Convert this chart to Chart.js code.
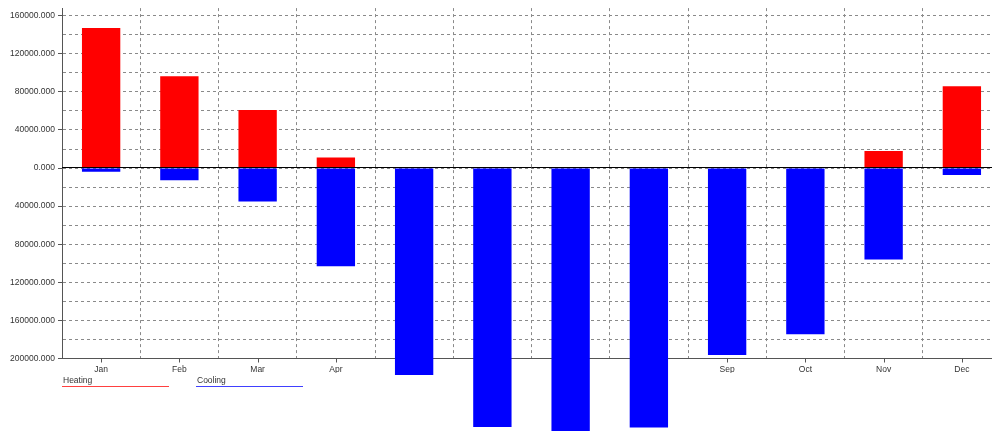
<!DOCTYPE html>
<html>
<head>
<meta charset="utf-8">
<script src="https://cdn.jsdelivr.net/npm/chart.js@4/dist/chart.umd.min.js"></script>
<style>
  html, body { margin: 0; padding: 0; background: #fff; overflow: hidden; }
  #wrap { width: 1010px; height: 431px; position: relative; }
</style>
</head>
<body>
<div id="wrap"><canvas id="c" width="1010" height="431"></canvas></div>
<script>
// Monthly heating / cooling loads (cooling stored as negative values)
const months = ['Jan', 'Feb', 'Mar', 'Apr', 'May', 'Jun', 'Jul', 'Aug', 'Sep', 'Oct', 'Nov', 'Dec'];
const heating = [147000, 96400, 60900, 11000, 0, 0, 0, 0, 0, 0, 18000, 86000];
const cooling = [-3800, -12800, -35000, -103000, -217300, -272000, -279000, -272400, -196400, -174500, -96000, -7300];
const seriesNames = ['Heating', 'Cooling'];
const seriesColors = ['#ff0000', '#0000ff'];

const FONT = { family: 'Liberation Sans, Arial, sans-serif', size: 8.5 };
const TEXT = '#333333';

const onStep = (v, step) => Math.abs(v / step - Math.round(v / step)) < 1e-6;

// Extra marks: centred x tick marks, zero line, underlined legend
const extras = {
  id: 'extras',
  beforeDatasetsDraw(chart) {
    const { ctx, chartArea, scales } = chart;
    ctx.save();
    ctx.strokeStyle = '#555';
    ctx.lineWidth = 1;
    months.forEach((m, i) => {
      const x = Math.round(scales.x.getPixelForValue(i)) + 0.5;
      ctx.beginPath();
      ctx.moveTo(x, chartArea.bottom);
      ctx.lineTo(x, chartArea.bottom + 4);
      ctx.stroke();
    });
    ctx.restore();
  },
  afterDatasetsDraw(chart) {
    const { ctx, chartArea, scales } = chart;
    const y0 = Math.round(scales.y.getPixelForValue(0)) - 0.5;
    ctx.save();
    ctx.strokeStyle = '#000';
    ctx.lineWidth = 1;
    ctx.beginPath();
    ctx.moveTo(chartArea.left, y0);
    ctx.lineTo(chartArea.right, y0);
    ctx.stroke();
    ctx.restore();
  },
  afterDraw(chart) {
    const { ctx, chartArea } = chart;
    ctx.save();
    ctx.font = FONT.size + 'px ' + FONT.family;
    ctx.textBaseline = 'alphabetic';
    ctx.textAlign = 'left';
    chart.data.datasets.forEach((ds, i) => {
      const x = chartArea.left + i * 134;
      const y = chartArea.bottom + 24.5;
      ctx.fillStyle = TEXT;
      ctx.fillText(ds.label, x + 1, y);
      ctx.strokeStyle = ds.backgroundColor;
      ctx.globalAlpha = 0.75;
      ctx.beginPath();
      ctx.moveTo(x, y + 3.5);
      ctx.lineTo(x + 107, y + 3.5);
      ctx.stroke();
      ctx.globalAlpha = 1;
    });
    ctx.restore();
  }
};

new Chart(document.getElementById('c'), {
  type: 'bar',
  data: {
    labels: months,
    datasets: [
      { label: seriesNames[0], data: heating, backgroundColor: seriesColors[0], clip: false },
      { label: seriesNames[1], data: cooling, backgroundColor: seriesColors[1], clip: false }
    ]
  },
  options: {
    responsive: false,
    animation: false,
    layout: { padding: { top: 5.5, right: 9, bottom: 58, left: 0 } },
    datasets: { bar: { categoryPercentage: 1, barPercentage: 0.49 } },
    plugins: { legend: { display: false }, tooltip: { enabled: false } },
    scales: {
      x: {
        stacked: true,
        grid: { offset: true, drawTicks: false, color: '#8a8a8a', lineWidth: 1 },
        border: { display: true, color: '#555', width: 1, dash: [3, 3] },
        ticks: { color: TEXT, font: FONT, padding: 6, maxRotation: 0 },
        afterFit(s) { s.height = 14.5; }
      },
      y: {
        stacked: true,
        min: -200000,
        max: 168000,
        afterBuildTicks(s) {
          const out = [];
          for (let v = -200000; v <= 160000; v += 20000) out.push({ value: v });
          s.ticks = out;
        },
        ticks: {
          stepSize: 20000,
          autoSkip: false,
          color: TEXT,
          font: FONT,
          padding: 3,
          callback: v => (onStep(v, 40000) ? Math.abs(v).toFixed(3) : '')
        },
        grid: {
          color: '#8a8a8a',
          lineWidth: 1,
          tickLength: 4,
          tickColor: c => (c.tick && onStep(c.tick.value, 40000) ? '#555' : 'rgba(0,0,0,0)')
        },
        border: { display: true, color: '#555', width: 1, dash: [3, 3] },
        afterFit(s) { s.width = 62; }
      }
    }
  },
  plugins: [extras]
});
</script>
</body>
</html>
